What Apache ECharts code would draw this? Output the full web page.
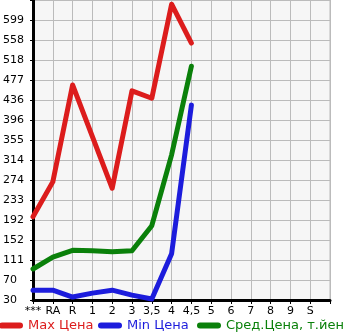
<!DOCTYPE html>
<html>
<head>
<meta charset="utf-8">
<script src="https://cdn.jsdelivr.net/npm/echarts@6/dist/echarts.min.js"></script>
<style>html,body{margin:0;padding:0;background:#fff}#c{width:345px;height:335px}</style>
</head>
<body>
<div id="c"></div>
<script>
var categories = ['***', 'RA', 'R', '1', '2', '3', '3,5', '4', '4,5', '5', '6', '7', '8', '9', 'S', ''];
var maxPrice = [199, 270, 467, 362, 257, 455, 440, 631, 552];
var minPrice = [50, 50, 36, 44, 50, 40, 32, 124, 426];
var avgPrice = [93, 117, 131, 130, 128, 130, 181, 325, 505];
var yTickLabels = ['30', '70', '111', '152', '192', '233', '274', '314', '355', '396', '436', '477', '518', '558', '599', ''];
var seriesNames = ['Max Цена', 'Min Цена', 'Сред.Цена, т.йен'];
var colors = ['#dc1c1c', '#1c1cdc', '#0a800a'];

var yMin = 30, yStep = 40.64, yMax = 30 + 15 * 40.64;
var chart = echarts.init(document.getElementById('c'), null, {renderer: 'canvas'});
var capsule = 'path://M3,0 L21,0 A3,3 0 0 1 21,6 L3,6 A3,3 0 0 1 3,0 Z';
var legendLefts = [-1, 98, 197];
function mk(name, data, color) {
  return {
    name: name, type: 'line', data: data, symbol: 'none', smooth: false,
    lineStyle: {color: color, width: 5, cap: 'round', join: 'round'},
    itemStyle: {color: color}
  };
}
chart.setOption({
  animation: false,
  textStyle: {fontFamily: 'DejaVu Sans'},
  grid: {left: 30, right: 15, top: 0, bottom: 35, show: true, backgroundColor: '#f6f6f6', borderColor: '#bbbbbb', borderWidth: 1},
  legend: seriesNames.map(function (n, i) {
    return {
      left: legendLefts[i], top: 319, padding: 0, itemWidth: 24, itemHeight: 6, itemGap: 0, icon: capsule,
      textStyle: {fontSize: 13, fontFamily: 'DejaVu Sans', color: colors[i]},
      data: [n]
    };
  }),
  xAxis: {
    type: 'category', data: categories, boundaryGap: false,
    axisLine: {show: true, lineStyle: {color: '#000', width: 3}},
    axisTick: {show: true, length: 4, lineStyle: {color: '#000', width: 1}},
    axisLabel: {color: '#000', fontSize: 11, margin: 6, interval: 0},
    splitLine: {show: true, lineStyle: {color: '#bbbbbb', width: 1}}
  },
  yAxis: {
    type: 'value', min: yMin, max: yMax, interval: yStep,
    axisLine: {show: true, lineStyle: {color: '#000', width: 3}},
    axisTick: {show: true, length: 3, lineStyle: {color: '#000', width: 1}},
    axisLabel: {
      color: '#000', fontSize: 11, align: 'left', margin: 30, padding: [0, 0, 6, 0],
      formatter: function (v) { var i = Math.round((v - yMin) / yStep); return yTickLabels[i] || ''; }
    },
    splitLine: {show: true, lineStyle: {color: '#bbbbbb', width: 1}}
  },
  series: [mk(seriesNames[0], maxPrice, colors[0]), mk(seriesNames[1], minPrice, colors[1]), mk(seriesNames[2], avgPrice, colors[2])]
});
</script>
</body>
</html>
